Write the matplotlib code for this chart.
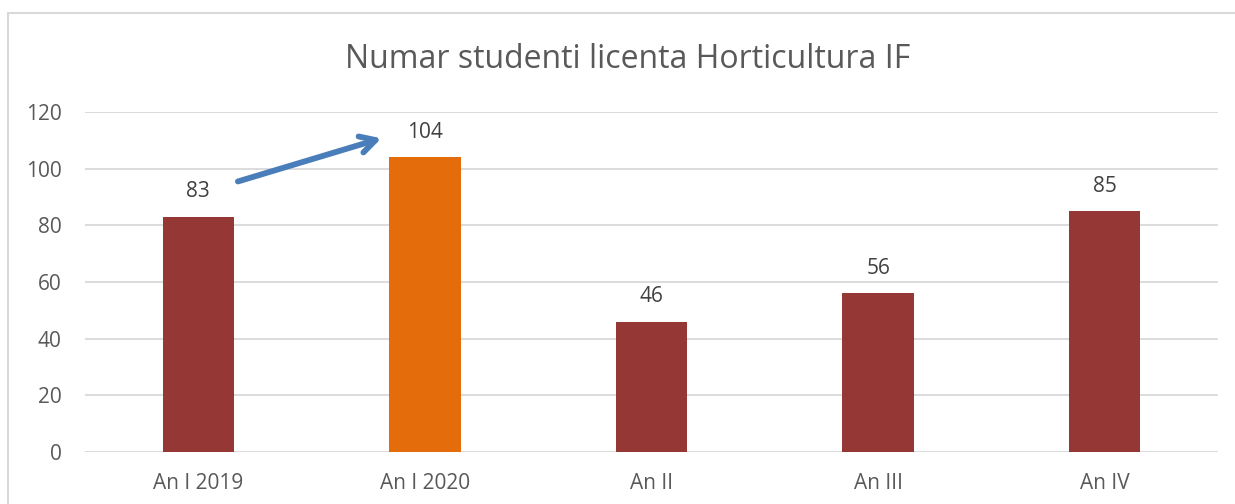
import matplotlib.pyplot as plt
from matplotlib.patches import Rectangle

# data
categories = ["An I 2019", "An I 2020", "An II", "An III", "An IV"]
values = [83, 104, 46, 56, 85]
bar_colors = ["#953735", "#E46C0A", "#953735", "#953735", "#953735"]
y_ticks = [0, 20, 40, 60, 80, 100, 120]
title = "Numar studenti licenta Horticultura IF"

plt.rcParams['font.family'] = ['Open Sans', 'DejaVu Sans']

fig = plt.figure(figsize=(12.35, 5.04), dpi=100)
ax = fig.add_axes([85 / 1235, 1 - 452 / 504, (1218 - 85) / 1235, (452 - 112) / 504])

x = list(range(len(categories)))
ax.bar(x, values, width=0.315, color=bar_colors, zorder=3)

ax.set_xlim(-0.5, len(categories) - 0.5)
ax.set_ylim(0, 120)
ax.set_yticks(y_ticks)
ax.set_xticks(x)
ax.set_xticklabels(categories)
ax.tick_params(axis='both', length=0, colors='#595959', labelsize=15)
ax.tick_params(axis='x', pad=15)
ax.tick_params(axis='y', pad=17)
ax.grid(axis='y', color='#D9D9D9', linewidth=1.3, zorder=0)
for s in ax.spines.values():
    s.set_visible(False)

# value labels
for xi, v in zip(x, values):
    ax.annotate(str(v), (xi, v), xytext=(0, 10.5), textcoords='offset points',
                ha='center', va='bottom', fontsize=15, color='#404040')

# arrow between first two bars
ax.annotate("", xy=(0.82, 111.0), xytext=(0.163, 95.2),
            arrowprops=dict(arrowstyle='->,head_length=1.1,head_width=0.6',
                            color='#4A7EBB', lw=4.2), zorder=5)

fig.text(628 / 1235, 1 - 60 / 504, title, ha='center', va='center',
         fontsize=23, color='#595959')

# chart border (top and left visible)
fig.patches.append(Rectangle((8 / 1235, -0.1), 1.2, 1.1 - 13.5 / 504,
                             transform=fig.transFigure, fill=False,
                             edgecolor='#D9D9D9', linewidth=1.5))

fig.savefig("out.png", dpi=100)
